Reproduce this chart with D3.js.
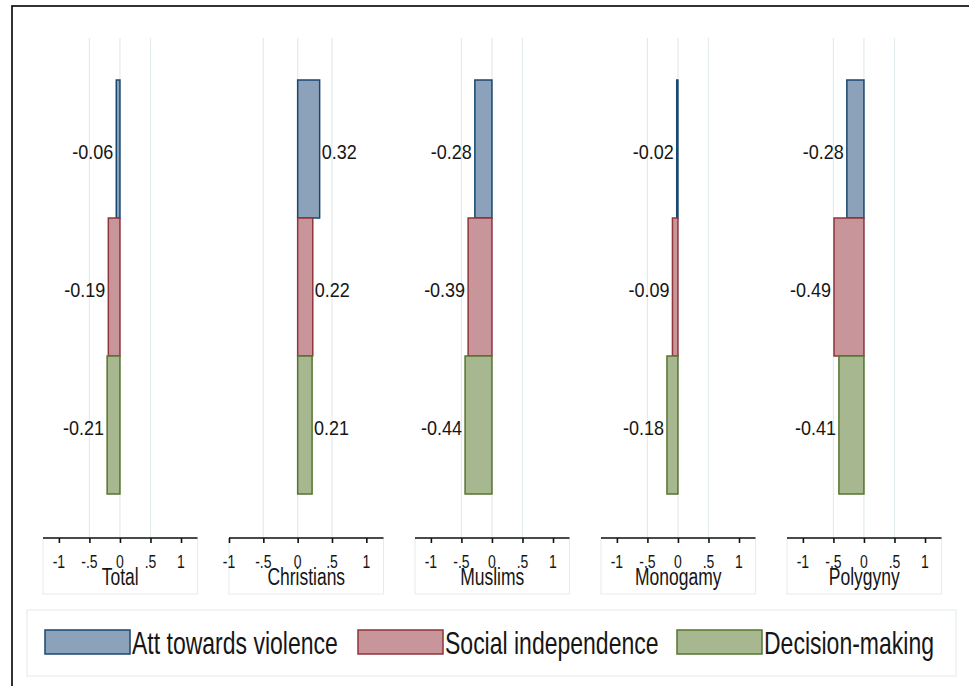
<!DOCTYPE html>
<html>
<head>
<meta charset="utf-8">
<script src="https://cdn.jsdelivr.net/npm/d3@7"></script>
<style>
  html, body { margin: 0; padding: 0; background: #fff; }
  svg { display: block; }
  text { font-family: "Liberation Sans", Arial, sans-serif; fill: #161616; }
</style>
</head>
<body>
<svg id="chart" width="969" height="686"></svg>
<script>
// Groups shown as side-by-side panels
const groups = ["Total", "Christians", "Muslims", "Monogamy", "Polygyny"];
// Outcome series (one bar per series in every panel)
const series = ["Att towards violence", "Social independence", "Decision-making"];
// Coefficients per series, in the order of the groups
const attViolence = [-0.06, 0.32, -0.28, -0.02, -0.28];
const socialIndep = [-0.19, 0.22, -0.39, -0.09, -0.49];
const decisionMaking = [-0.21, 0.21, -0.44, -0.18, -0.41];
// Axis ticks and per-panel axis extents
const tickValues = [-1, -0.5, 0, 0.5, 1];
const tickLabels = ["-1", "-.5", "0", ".5", "1"];
const gridValues = [-0.5, 0, 0.5];
const axisMin = [-1.26, -1.0, -1.26, -1.26, -1.26];
const axisMax = [1.27, 1.25, 1.27, 1.27, 1.27];

const seriesValues = [attViolence, socialIndep, decisionMaking];
const fills = ["#8ca2bb", "#c8959b", "#a7b891"];
const strokes = ["#1a476f", "#90353b", "#55752f"];

const svg = d3.select("#chart");

// outer frame
svg.append("rect")
  .attr("x", 12).attr("y", 6).attr("width", 980).attr("height", 700)
  .attr("fill", "none").attr("stroke", "#000").attr("stroke-width", 1.6);

// stretched text helper
function stretchedText(sel, x, y, txt, size, sy, anchor) {
  return sel.append("text")
    .attr("transform", `translate(${x},${y}) scale(1,${sy})`)
    .attr("font-size", size)
    .attr("text-anchor", anchor || "start")
    .text(txt);
}

const panelLeft = 43, panelStep = 186, panelWidth = 154.5;
const plotTop = 38, axisY = 538;

const y = d3.scaleBand().domain(series).range([80, 494]).padding(0);

groups.forEach((g, gi) => {
  const left = panelLeft + gi * panelStep;
  const x = d3.scaleLinear().domain([axisMin[gi], axisMax[gi]]).range([left, left + panelWidth]);
  const p = svg.append("g");

  // gridlines
  p.selectAll("line.grid").data(gridValues).join("line")
    .attr("x1", d => x(d)).attr("x2", d => x(d))
    .attr("y1", plotTop).attr("y2", axisY)
    .attr("stroke", "#e2ecee").attr("stroke-width", 1.2);

  // axis caption box
  p.append("rect")
    .attr("x", left).attr("y", axisY)
    .attr("width", panelWidth).attr("height", 56)
    .attr("fill", "none").attr("stroke", "#e3ecee").attr("stroke-width", 1);

  // bars
  series.forEach((s, si) => {
    const v = seriesValues[si][gi];
    p.append("rect")
      .attr("x", Math.min(x(0), x(v)))
      .attr("y", y(s))
      .attr("width", Math.abs(x(v) - x(0)))
      .attr("height", y.bandwidth())
      .attr("fill", fills[si])
      .attr("stroke", strokes[si])
      .attr("stroke-width", 1.5);
    const ly = y(s) + y.bandwidth() / 2 + 10;
    if (v < 0) {
      stretchedText(p, x(v) - 3, ly, v.toFixed(2), 18, 1.17, "end");
    } else {
      stretchedText(p, x(v) + 2, ly, v.toFixed(2), 18, 1.17, "start");
    }
  });

  // axis
  const axis = d3.axisBottom(x).tickValues(tickValues).tickSize(5).tickFormat("");
  const ag = p.append("g").attr("transform", `translate(0,${axisY})`).call(axis);
  ag.select(".domain").attr("stroke", "#111").attr("stroke-width", 1.6)
    .attr("d", `M${left},0H${left + panelWidth}`);
  ag.selectAll(".tick line").attr("stroke", "#111").attr("stroke-width", 1.6);

  tickValues.forEach((t, ti) => {
    stretchedText(p, x(t), 568, tickLabels[ti], 14, 1.3, "middle");
  });
  stretchedText(p, left + panelWidth / 2, 585, g, 17.5, 1.37, "middle");
});

// legend
const lg = svg.append("g");
lg.append("rect")
  .attr("x", 27).attr("y", 610).attr("width", 929).attr("height", 66)
  .attr("fill", "#fff").attr("stroke", "#e0eaec").attr("stroke-width", 1);
const legendX = [45, 358, 677];
series.forEach((s, si) => {
  lg.append("rect")
    .attr("x", legendX[si]).attr("y", 630)
    .attr("width", 85).attr("height", 24)
    .attr("fill", fills[si]).attr("stroke", strokes[si]).attr("stroke-width", 1.5);
  stretchedText(lg, legendX[si] + 87, 653.5, s, 23, 1.37, "start");
});
</script>
</body>
</html>
